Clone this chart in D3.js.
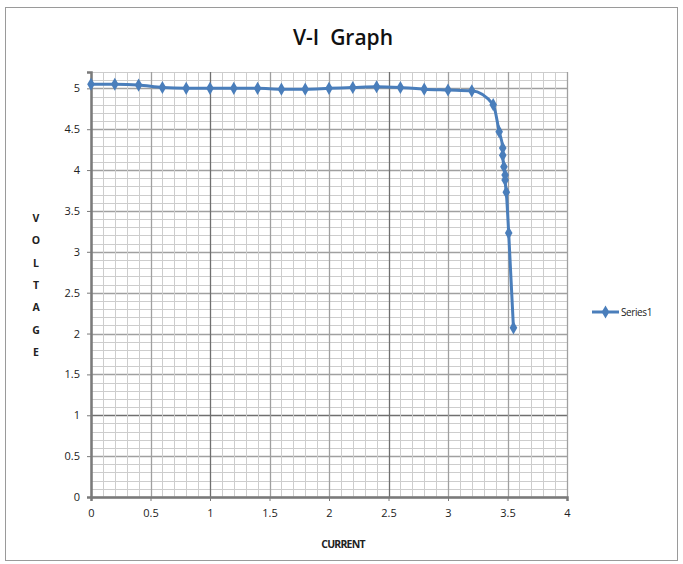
<!DOCTYPE html>
<html>
<head>
<meta charset="utf-8">
<script src="https://cdn.jsdelivr.net/npm/d3@7"></script>
<style>
  body { margin: 0; background: #fff; }
  text { font-family: "Open Sans", "Liberation Sans", sans-serif; white-space: pre; }
</style>
</head>
<body>
<div id="myChart"></div>
<script>
// readings
let current = [0, 0.2, 0.4, 0.6, 0.8, 1.0, 1.2, 1.4, 1.6, 1.8, 2.0, 2.2, 2.4, 2.6, 2.8, 3.0, 3.2,
               3.38, 3.43, 3.46, 3.46, 3.47, 3.48, 3.48, 3.49, 3.51, 3.55];
let voltage = [5.05, 5.05, 5.04, 5.01, 5.0, 5.0, 5.0, 5.0, 4.99, 4.99, 5.0, 5.01, 5.02, 5.01, 4.99, 4.98, 4.97,
               4.8, 4.47, 4.27, 4.18, 4.04, 3.94, 3.88, 3.73, 3.23, 2.07];
let xTicks = [0, 0.5, 1, 1.5, 2, 2.5, 3, 3.5, 4];
let yTicks = [0, 0.5, 1, 1.5, 2, 2.5, 3, 3.5, 4, 4.5, 5];
let seriesName = "Series1";

let W = 683, H = 564;
let margin = { top: 72, right: 116, bottom: 67, left: 91 },
    width = W - margin.left - margin.right,
    height = H - margin.top - margin.bottom;

let root = d3.select("#myChart").append("svg")
  .attr("width", W)
  .attr("height", H);

// chart frame
root.append("rect")
  .attr("x", 5.5).attr("y", 7.5)
  .attr("width", 672).attr("height", 553)
  .attr("fill", "#fff")
  .attr("stroke", "#9a9a9a");

root.append("text")
  .attr("x", 343).attr("y", 45)
  .attr("text-anchor", "middle")
  .attr("font-size", 21)
  .attr("font-weight", 600)
  .attr("fill", "#111")
  .text("V-I  Graph");

let svg = root.append("g")
  .attr("transform", "translate(" + margin.left + "," + margin.top + ")");

let x = d3.scaleLinear().domain([0, 4]).range([0, width]);
let y = d3.scaleLinear().domain([0, 5.2]).range([height, 0]);

// minor grid every 0.1
let xMinor = d3.range(0, 41).map(i => i / 10);
let yMinor = d3.range(0, 53).map(i => i / 10);
let isMajor = v => Math.abs(v * 2 - Math.round(v * 2)) < 1e-6;
let darkX = [1, 2.5], darkY = [1];

function lineColor(v, dark) {
  if (dark.some(d => Math.abs(d - v) < 1e-6)) return "#6f6f6f";
  return isMajor(v) ? "#a0a0a0" : "#cdcdcd";
}

svg.append("g").selectAll("line")
  .data(yMinor)
  .enter().append("line")
  .attr("x1", 0).attr("x2", width)
  .attr("y1", d => Math.round(y(d)) + 0.5)
  .attr("y2", d => Math.round(y(d)) + 0.5)
  .attr("stroke", d => lineColor(d, darkY))
  .attr("stroke-width", d => isMajor(d) ? 1.3 : 1);

svg.append("g").selectAll("line")
  .data(xMinor)
  .enter().append("line")
  .attr("y1", 0).attr("y2", height)
  .attr("x1", d => Math.round(x(d)) + 0.5)
  .attr("x2", d => Math.round(x(d)) + 0.5)
  .attr("stroke", d => lineColor(d, darkX))
  .attr("stroke-width", d => isMajor(d) ? 1.3 : 1);

// axes
let xAxis = svg.append("g")
  .attr("transform", "translate(0," + height + ")")
  .call(d3.axisBottom(x).tickValues(xTicks).tickSize(4).tickPadding(8).tickFormat(d3.format("")));
let yAxis = svg.append("g")
  .call(d3.axisLeft(y).tickValues(yTicks).tickSize(4).tickPadding(7).tickFormat(d3.format("")));

[xAxis, yAxis].forEach(a => {
  a.select(".domain").attr("stroke", "#7a7a7a").attr("stroke-width", 2.5);
  a.selectAll(".tick line").attr("stroke", "#7a7a7a");
  a.selectAll(".tick text")
    .attr("font-size", 11)
    .attr("fill", "#222");
});

// series
let pts = current.map((c, i) => ({ c: c, v: voltage[i] }));
let blue = "#4a7ebb";

svg.append("path")
  .datum(pts)
  .attr("fill", "none")
  .attr("stroke", blue)
  .attr("stroke-width", 3)
  .attr("stroke-linejoin", "round")
  .attr("d", d3.line().x(d => x(d.c)).y(d => y(d.v)).curve(d3.curveMonotoneX));

let diamond = d3.symbol().type(d3.symbolDiamond).size(50);
svg.append("g").selectAll("path")
  .data(pts)
  .enter().append("path")
  .attr("transform", d => "translate(" + x(d.c) + "," + y(d.v) + ")")
  .attr("d", diamond)
  .attr("fill", blue);

// axis titles
svg.append("text")
  .attr("x", width / 2 + 14).attr("y", height + 51)
  .attr("text-anchor", "middle")
  .attr("font-size", 10.5)
  .attr("font-weight", 700)
  .attr("letter-spacing", -0.8)
  .attr("fill", "#222")
  .text("CURRENT");

let yLabel = "VOLTAGE".split("");
svg.append("g").selectAll("text")
  .data(yLabel)
  .enter().append("text")
  .attr("x", -55)
  .attr("y", (d, i) => 150 + i * 22.3)
  .attr("text-anchor", "middle")
  .attr("font-size", 10.5)
  .attr("font-weight", 700)
  .attr("fill", "#222")
  .text(d => d);

// legend
let lg = root.append("g").attr("transform", "translate(592,312)");
lg.append("line")
  .attr("x1", 0).attr("x2", 27)
  .attr("stroke", blue).attr("stroke-width", 3);
lg.append("path")
  .attr("transform", "translate(13.5,0)")
  .attr("d", diamond)
  .attr("fill", blue);
lg.append("text")
  .attr("x", 29).attr("y", 4)
  .attr("font-size", 10)
  .attr("letter-spacing", -0.4)
  .attr("fill", "#222")
  .text(seriesName);
</script>
</body>
</html>
